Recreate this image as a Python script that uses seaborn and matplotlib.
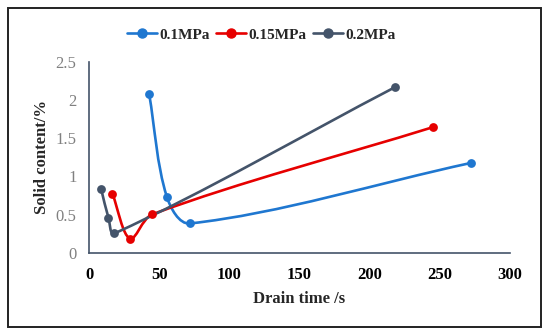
import numpy as np
import matplotlib
matplotlib.use("Agg")
import matplotlib.pyplot as plt
from matplotlib.path import Path
from matplotlib.patches import PathPatch, Rectangle
from matplotlib.lines import Line2D
import seaborn as sns

# data
labels = ["0.1MPa", "0.15MPa", "0.2MPa"]
colors = ["#1F77D0", "#E60000", "#44546A"]
time_01 = [42.8, 55.4, 72.0, 272.0]
solid_01 = [2.08, 0.735, 0.385, 1.175]
time_015 = [16.6, 29.2, 45.1, 245.4]
solid_015 = [0.775, 0.185, 0.505, 1.645]
time_02 = [8.6, 13.8, 18.1, 218.0]
solid_02 = [0.835, 0.46, 0.255, 2.165]

series = [(time_01, solid_01), (time_015, solid_015), (time_02, solid_02)]

sns.set_theme(style="white")
plt.rcParams["font.family"] = ["Liberation Serif", "DejaVu Serif"]

fig = plt.figure(figsize=(5.5, 3.35), dpi=100)
ax = fig.add_axes([0.162, 0.245, 0.765, 0.571])
ax.set_xlim(0, 300)
ax.set_ylim(0, 2.5)


def smooth_path(xs, ys):
    # Excel-like smoothed line, tangents worked out in screen space
    p = ax.transData.transform(np.column_stack([xs, ys]).astype(float))
    n = len(p)
    d = [np.hypot(*(p[i + 1] - p[i])) for i in range(n - 1)]
    verts = [p[0]]
    codes = [Path.MOVETO]
    for i in range(n - 1):
        if i > 0:
            c1 = p[i] + (p[i + 1] - p[i - 1]) * d[i] / (d[i - 1] + d[i]) / 3.0
        else:
            c1 = p[i] + (p[i + 1] - p[i]) / 3.0
        if i + 2 < n:
            c2 = p[i + 1] - (p[i + 2] - p[i]) * d[i] / (d[i] + d[i + 1]) / 3.0
        else:
            c2 = p[i + 1] - (p[i + 1] - p[i]) / 3.0
        verts += [c1, c2, p[i + 1]]
        codes += [Path.CURVE4] * 3
    verts = ax.transData.inverted().transform(np.array(verts))
    return Path(verts, codes)


for (xs, ys), col in zip(series, colors):
    ax.add_patch(PathPatch(smooth_path(xs, ys), facecolor="none",
                           edgecolor=col, lw=1.9, zorder=2))
    sns.scatterplot(x=xs, y=ys, color=col, s=40, edgecolor=col,
                    linewidth=0, ax=ax, zorder=3, legend=False)

ax.set_xticks(range(0, 301, 50))
ax.set_yticks([0, 0.5, 1, 1.5, 2, 2.5])
ax.set_yticklabels(["0", "0.5", "1", "1.5", "2", "2.5"])

for s in ["top", "right"]:
    ax.spines[s].set_visible(False)
for s in ["left", "bottom"]:
    ax.spines[s].set_color("#44546A")
    ax.spines[s].set_linewidth(1.2)

ax.tick_params(axis="x", direction="in", length=4, width=1, color="#44546A",
               labelsize=12, pad=10, labelcolor="black")
ax.tick_params(axis="y", direction="in", length=4, width=1, color="#44546A",
               labelsize=12, pad=9, labelcolor="#808080")
for t in ax.get_xticklabels():
    t.set_fontweight("bold")

ax.set_xlabel("Drain time /s", fontsize=12, fontweight="bold", labelpad=6)
ax.set_ylabel("Solid content/%", fontsize=12, fontweight="bold", labelpad=4)

handles = [Line2D([0], [0], color=c, lw=1.9, marker="o", markersize=6.5)
           for c in colors]
fig.legend(handles, labels, loc="center", bbox_to_anchor=(0.475, 0.896), ncol=3,
           frameon=False, handlelength=2.0, handletextpad=0.15, columnspacing=0.4,
           prop={"family": "Liberation Serif", "weight": "bold", "size": 11})

fig.patches.append(Rectangle((8 / 550, 1 - 327 / 335), 533 / 550, 319 / 335,
                             transform=fig.transFigure, fill=False,
                             edgecolor="#222222", lw=1.4, zorder=10))

fig.savefig("out.png", dpi=100)
